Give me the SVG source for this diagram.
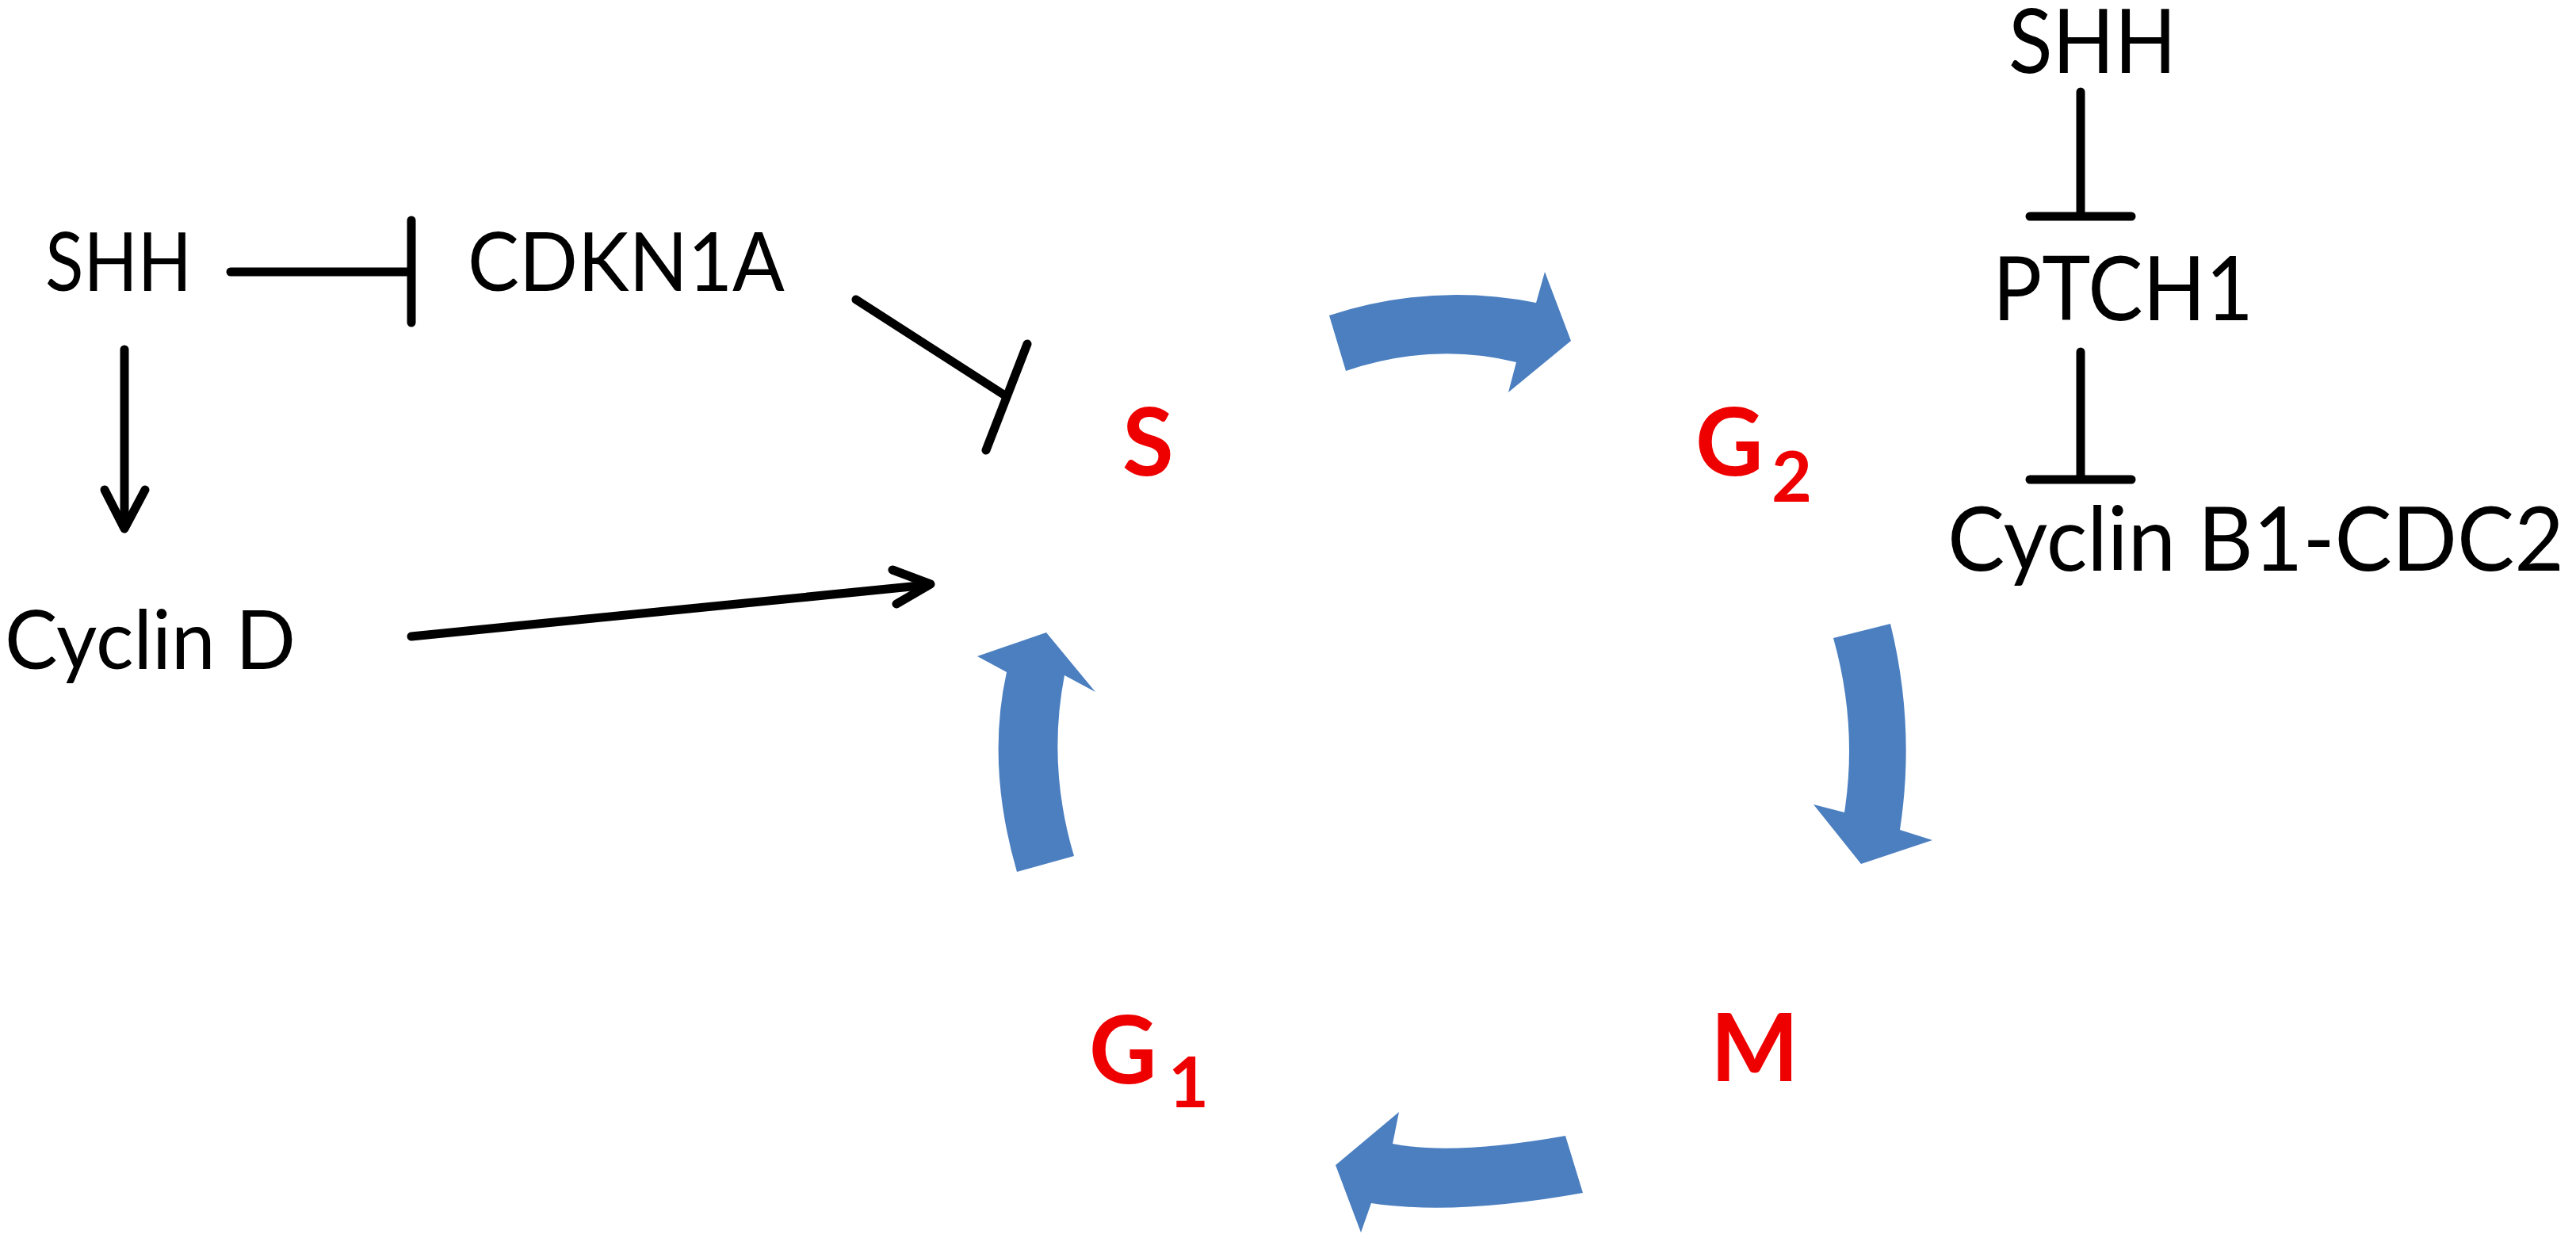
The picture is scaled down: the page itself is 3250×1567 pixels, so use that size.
<svg xmlns="http://www.w3.org/2000/svg" width="3250" height="1567" viewBox="0 0 3250 1567">
<style>
.lbl{font-family:Lato,"Liberation Sans",sans-serif;font-size:103px;fill:#000}
.lbl2{font-family:Lato,"Liberation Sans",sans-serif;font-size:113px;fill:#000}
.phase{font-family:Lato,"Liberation Sans",sans-serif;font-weight:bold;font-size:118px;fill:#ee0000}
.sub{font-family:Lato,"Liberation Sans",sans-serif;font-weight:bold;font-size:88px;fill:#ee0000}
.ln{stroke:#000;stroke-width:11;fill:none;stroke-linecap:round;stroke-linejoin:round}
.cyc{fill:#4b7fc0}
</style>
<rect width="3250" height="1567" fill="#fff"/>
<g id="cycle-arrows">
<path class="cyc" d="M1677,398 Q1806,356 1938,382 L1949,343 L1982,430 L1903,495 L1913,457 Q1808,431 1698,468 Z"/>
<path class="cyc" d="M2313,805 L2385,787 Q2417,917 2397,1047 L2438,1060 L2348,1090 L2288,1015 L2327,1025 Q2344,915 2313,805 Z"/>
<path class="cyc" d="M1975,1433 L1997,1505 Q1836,1534 1730,1518 L1717,1555 L1685,1470 L1765,1403 L1757,1443 Q1834,1458 1975,1433 Z"/>
<path class="cyc" d="M1283,1100 L1355,1080 Q1321,966 1343,852 L1382,873 L1320,798 L1233,828 L1270,848 Q1244,966 1283,1100 Z"/>
</g>
<g id="connectors">
<line class="ln" x1="291" y1="343" x2="517" y2="343" stroke-width="12"/>
<line class="ln" x1="519" y1="278" x2="519" y2="407" stroke-width="10"/>
<line class="ln" x1="157" y1="441" x2="157" y2="666" stroke-width="9"/>
<polyline class="ln" points="132,618 157,667 183,618" stroke-width="10"/>
<line class="ln" x1="519" y1="803" x2="1170" y2="738" stroke-width="12"/>
<polyline class="ln" points="1126,719 1174,737 1131,762" stroke-width="12"/>
<line class="ln" x1="1080" y1="378" x2="1268" y2="499"/>
<line class="ln" x1="1244" y1="568" x2="1296" y2="434"/>
<line class="ln" x1="2625" y1="116" x2="2625" y2="270"/>
<line class="ln" x1="2561" y1="273" x2="2689" y2="273" stroke-width="12"/>
<line class="ln" x1="2625" y1="444" x2="2625" y2="603"/>
<line class="ln" x1="2561" y1="605" x2="2689" y2="605" stroke-width="12"/>
</g>
<g id="node-shh-left"><text class="lbl" x="57" y="367" textLength="185" lengthAdjust="spacingAndGlyphs">SHH</text></g>
<g id="node-cdkn1a"><text class="lbl" x="590" y="367" textLength="400" lengthAdjust="spacingAndGlyphs">CDKN1A</text></g>
<g id="node-cyclin-d"><text class="lbl" x="6" y="844" textLength="367" lengthAdjust="spacingAndGlyphs">Cyclin D</text></g>
<g id="node-shh-right"><text class="lbl2" x="2534" y="92" textLength="212" lengthAdjust="spacingAndGlyphs">SHH</text></g>
<g id="node-ptch1"><text class="lbl2" x="2514" y="404" textLength="329" lengthAdjust="spacingAndGlyphs">PTCH1</text></g>
<g id="node-cyclinb1"><text class="lbl2" x="2457" y="720" textLength="778" lengthAdjust="spacingAndGlyphs">Cyclin B1-CDC2</text></g>
<g id="node-s"><text class="phase" x="1416" y="600">S</text></g>
<g id="node-g2"><text class="phase" x="2139" y="600">G</text><text class="sub" x="2235" y="633">2</text></g>
<g id="node-m"><text class="phase" x="2158" y="1364">M</text></g>
<g id="node-g1"><text class="phase" x="1374" y="1367">G</text><text class="sub" x="1474" y="1397">1</text></g>
</svg>
